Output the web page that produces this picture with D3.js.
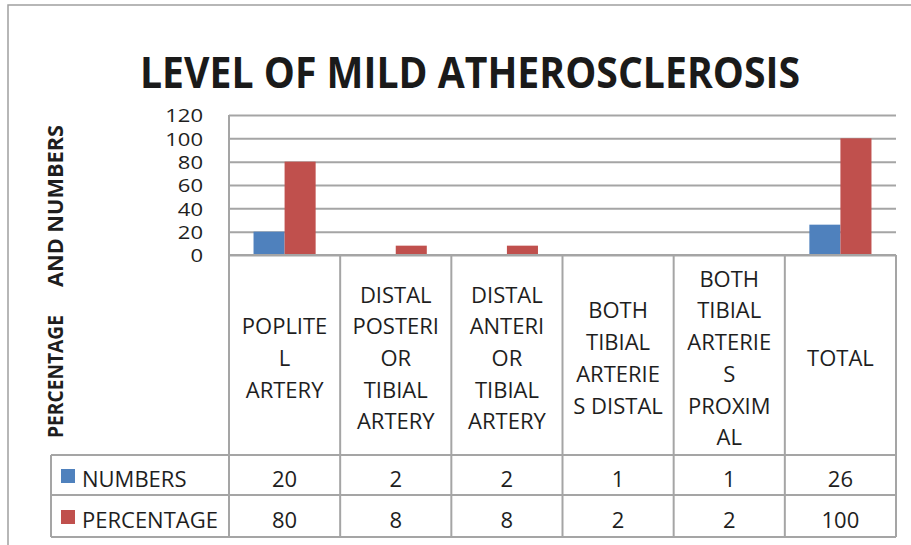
<!DOCTYPE html>
<html><head><meta charset="utf-8">
<script src="https://cdn.jsdelivr.net/npm/d3@7"></script>
<style>
body{margin:0;background:#fff;}
text{font-family:"Open Sans",sans-serif;fill:#1e1e1e;}
</style></head>
<body><svg id="chart" width="911" height="545"></svg>
<script>
// ---- data ----
const title = "LEVEL OF MILD ATHEROSCLEROSIS";
const yTitleParts = ["PERCENTAGE", "AND NUMBERS"];
const categories = [
  "POPLITE\nL\nARTERY",
  "DISTAL\nPOSTERI\nOR\nTIBIAL\nARTERY",
  "DISTAL\nANTERI\nOR\nTIBIAL\nARTERY",
  "BOTH\nTIBIAL\nARTERIE\nS DISTAL",
  "BOTH\nTIBIAL\nARTERIE\nS\nPROXIM\nAL",
  "TOTAL"
];
const seriesNames = ["NUMBERS", "PERCENTAGE"];
const seriesColors = ["#4f81bd", "#c0504d"];
// values shown in the data table
const numbers = [20, 2, 2, 1, 1, 26];
const percentage = [80, 8, 8, 2, 2, 100];
// bars actually drawn in the chart (small values are not plotted in the picture)
const numbersBars = [20, null, null, null, null, 26];
const percentageBars = [80, 8, 8, null, null, 100];
const yTicks = [0, 20, 40, 60, 80, 100, 120];

// ---- layout ----
const svg = d3.select("#chart");
const gridColor = "#a5a5a5";
const plotLeft = 229, plotRight = 896, plotTop = 115, plotBottom = 255;
const headerBottom = 455, row1Bottom = 495, row2Bottom = 537, tableLeft = 51;

// outer border
svg.append("rect").attr("x", 8).attr("y", 5).attr("width", 1000).attr("height", 1000)
  .attr("fill", "none").attr("stroke", "#a0a0a0").attr("stroke-width", 1.5);

// title
svg.append("text").attr("x", 470).attr("y", 88).attr("text-anchor", "middle")
  .attr("font-size", 43).attr("font-weight", 700).attr("textLength", 660)
  .attr("lengthAdjust", "spacingAndGlyphs").style("fill", "#1a1a1a").text(title);

const x = d3.scaleBand().domain(d3.range(categories.length)).range([plotLeft, plotRight]);
const x1 = d3.scaleBand().domain(seriesNames).range([0, x.bandwidth()]).paddingOuter(0.79);
const y = d3.scaleLinear().domain([0, 120]).range([plotBottom, plotTop]);

// y axis with gridlines
const sx = 1.16;
const yAxis = svg.append("g").attr("transform", `translate(${plotLeft},0)`)
  .call(d3.axisLeft(y).tickValues(yTicks).tickSizeInner(-(plotRight - plotLeft)).tickSizeOuter(0).tickPadding(26));
yAxis.select(".domain").remove();
yAxis.selectAll(".tick line").attr("stroke", gridColor).attr("stroke-width", 2);
yAxis.selectAll(".tick text").attr("font-size", 19).attr("font-family", "'Liberation Sans', Arial, sans-serif")
  .attr("dy", "0.36em").style("fill", "#1e1e1e")
  .attr("transform", `scale(${sx},1)`).attr("x", -26 / sx);

// bars
const barSeries = [numbersBars, percentageBars];
barSeries.forEach((vals, si) => {
  svg.append("g").selectAll("rect").data(vals.map((v, i) => ({v, i})).filter(d => d.v != null))
    .join("rect")
    .attr("x", d => x(d.i) + x1(seriesNames[si]))
    .attr("width", x1.bandwidth())
    .attr("y", d => y(d.v))
    .attr("height", d => y(0) - y(d.v))
    .attr("fill", seriesColors[si]);
});

// table grid
const grid = svg.append("g").attr("stroke", gridColor).attr("stroke-width", 2);
const bounds = d3.range(categories.length + 1).map(i => i < categories.length ? x(i) : plotRight);
bounds.forEach((bx, i) => {
  grid.append("line").attr("x1", bx).attr("x2", bx)
    .attr("y1", i === 0 ? plotTop : plotBottom).attr("y2", row2Bottom);
});
grid.append("line").attr("x1", plotLeft).attr("x2", plotRight).attr("y1", plotBottom).attr("y2", plotBottom);
[headerBottom, row1Bottom, row2Bottom].forEach(yy => {
  grid.append("line").attr("x1", tableLeft).attr("x2", plotRight).attr("y1", yy).attr("y2", yy);
});
grid.append("line").attr("x1", tableLeft).attr("x2", tableLeft).attr("y1", headerBottom).attr("y2", row2Bottom);

// category header labels
const lineH = 31.7;
categories.forEach((c, i) => {
  const lines = c.split("\n");
  const cx = x(i) + x.bandwidth() / 2;
  const first = 366 - (lines.length - 1) * lineH / 2;
  const t = svg.append("text").attr("text-anchor", "middle").attr("font-size", 22);
  lines.forEach((ln, k) => {
    t.append("tspan").attr("x", cx).attr("y", first + k * lineH).text(ln);
  });
});

// table rows
const rows = [numbers, percentage];
const rowBaselines = [487, 528];
rows.forEach((vals, r) => {
  svg.append("rect").attr("x", 61).attr("y", rowBaselines[r] - 18).attr("width", 14).attr("height", 14)
    .attr("fill", seriesColors[r]);
  svg.append("text").attr("x", 82).attr("y", rowBaselines[r]).attr("font-size", 22).text(seriesNames[r]);
  vals.forEach((v, i) => {
    svg.append("text").attr("x", x(i) + x.bandwidth() / 2).attr("y", rowBaselines[r])
      .attr("text-anchor", "middle").attr("font-size", 22).text(v);
  });
});

// y axis title (rotated)
const yt = svg.append("g").attr("transform", "translate(63,0) rotate(-90)");
yt.append("text").attr("x", -438).attr("y", 0).attr("font-size", 21).attr("font-weight", 700)
  .attr("textLength", 123).attr("lengthAdjust", "spacingAndGlyphs").text(yTitleParts[0]);
yt.append("text").attr("x", -287).attr("y", 0).attr("font-size", 21).attr("font-weight", 700)
  .attr("textLength", 162).attr("lengthAdjust", "spacingAndGlyphs").text(yTitleParts[1]);
</script>
</body></html>
